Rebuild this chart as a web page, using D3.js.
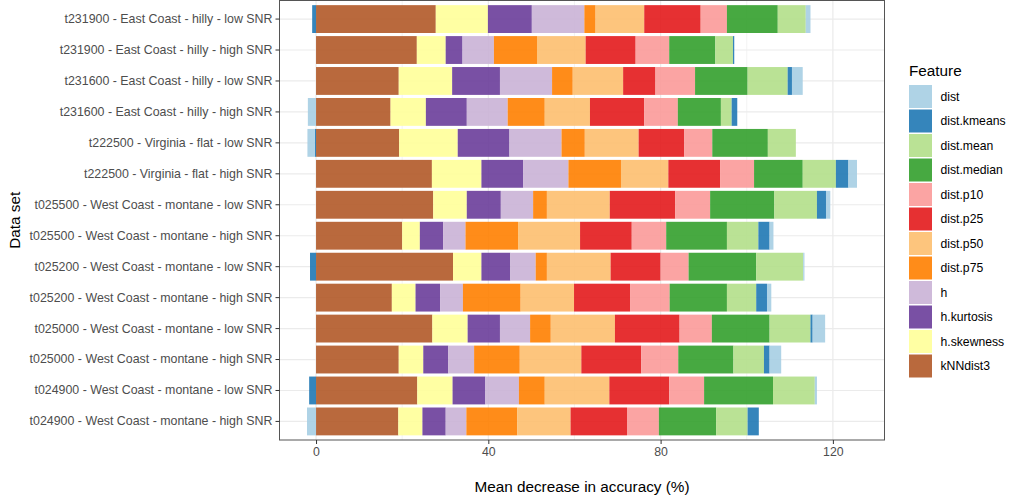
<!DOCTYPE html>
<html>
<head>
<meta charset="utf-8">
<script src="https://cdn.jsdelivr.net/npm/d3@7"></script>
<style>
  html, body { margin: 0; padding: 0; background: #fff; }
  svg { display: block; font-family: "Liberation Sans", Arial, sans-serif; }
</style>
</head>
<body>
<svg id="chart" width="1009" height="499"></svg>
<script>
// Data sets, listed top to bottom
const datasets = [
  "t231900 - East Coast - hilly - low SNR",
  "t231900 - East Coast - hilly - high SNR",
  "t231600 - East Coast - hilly - low SNR",
  "t231600 - East Coast - hilly - high SNR",
  "t222500 - Virginia - flat - low SNR",
  "t222500 - Virginia - flat - high SNR",
  "t025500 - West Coast - montane - low SNR",
  "t025500 - West Coast - montane - high SNR",
  "t025200 - West Coast - montane - low SNR",
  "t025200 - West Coast - montane - high SNR",
  "t025000 - West Coast - montane - low SNR",
  "t025000 - West Coast - montane - high SNR",
  "t024900 - West Coast - montane - low SNR",
  "t024900 - West Coast - montane - high SNR"
];

// Mean decrease in accuracy (%) per feature, same order as datasets
const kNNdist3    = [27.8, 23.4, 19.2, 17.3, 19.3, 26.9, 27.2, 20.0, 31.8, 17.6, 27.0, 19.2, 23.5, 19.1];
const hSkewness   = [12.1,  6.7, 12.4,  8.2, 13.6, 11.5,  7.8,  4.1,  6.6,  5.5,  8.2,  5.7,  8.2,  5.6];
const hKurtosis   = [10.2,  3.9, 11.1,  9.5, 12.0,  9.7,  7.9,  5.4,  6.7,  5.7,  7.5,  5.8,  7.6,  5.4];
const hFeat       = [12.2,  7.3, 12.1,  9.5, 12.1, 10.5,  7.5,  5.2,  5.9,  5.3,  7.0,  6.0,  7.8,  4.8];
const distP75     = [ 2.6, 10.0,  4.8,  8.6,  5.4, 12.2,  3.2, 12.2,  2.6, 13.4,  4.8, 10.6,  6.0, 11.8];
const distP50     = [11.3, 11.3, 11.7, 10.5, 12.5, 11.0, 14.6, 14.4, 14.8, 12.4, 14.9, 14.3, 15.0, 12.4];
const distP25     = [13.1, 11.6,  7.5, 12.6, 10.6, 12.0, 15.2, 12.0, 11.6, 13.0, 15.0, 13.9, 13.9, 13.1];
const distP10     = [ 6.1,  7.8,  9.2,  7.8,  6.5,  7.9,  8.1,  8.0,  6.5,  9.2,  7.5,  8.6,  8.1,  7.4];
const distMedian  = [11.8, 10.7, 12.2, 10.0, 12.9, 11.3, 14.9, 14.1, 15.7, 13.3, 13.4, 12.8, 16.0, 13.3];
const distMean    = [ 6.5,  4.1,  9.3,  2.5,  6.5,  7.7,  9.9,  7.3, 10.9,  6.8,  9.5,  7.1,  9.7,  7.3];
const distKmeans  = [-0.9,  0.3,  1.0,  1.3, -0.3,  2.9,  2.1,  2.6, -1.4,  2.5,  0.5,  1.3, -1.6,  2.6];
const distFeat    = [ 1.1,  0.0,  2.5, -1.9, -1.7,  2.0,  1.0,  0.9,  0.3,  1.0,  2.9,  2.7,  0.5, -2.1];

// Legend order of the features
const features = ["dist", "dist.kmeans", "dist.mean", "dist.median", "dist.p10", "dist.p25",
                  "dist.p50", "dist.p75", "h", "h.kurtosis", "h.skewness", "kNNdist3"];
const featureColors = ["#A6CEE3", "#1F78B4", "#B2DF8A", "#33A02C", "#FB9A99", "#E31A1C",
                       "#FDBF6F", "#FF7F00", "#CAB2D6", "#6A3D9A", "#FFFF99", "#B15928"];
const xTicks = [0, 40, 80, 120];
const xMinorTicks = [20, 60, 100];

const valuesByFeature = {
  "dist": distFeat, "dist.kmeans": distKmeans, "dist.mean": distMean, "dist.median": distMedian,
  "dist.p10": distP10, "dist.p25": distP25, "dist.p50": distP50, "dist.p75": distP75,
  "h": hFeat, "h.kurtosis": hKurtosis, "h.skewness": hSkewness, "kNNdist3": kNNdist3
};

const rows = datasets.map((name, i) => {
  const r = { name };
  features.forEach(f => { r[f] = valuesByFeature[f][i]; });
  return r;
});

// stacking from zero outward: last legend entry sits next to the axis
const stackKeys = features.slice().reverse();
const series = d3.stack()
  .keys(stackKeys)
  .offset(d3.stackOffsetDiverging)(rows);

const svg = d3.select("#chart");
const panel = { left: 279.5, right: 884.5, top: 0.5, bottom: 440 };

// x domain with 5% padding around the data extent
const lo = d3.min(series, s => d3.min(s, d => d[0]));
const hi = d3.max(series, s => d3.max(s, d => d[1]));
const pad = (hi - lo) * 0.05;
const x = d3.scaleLinear().domain([lo - pad, hi + pad]).range([panel.left, panel.right]);

// bars take 90% of each step, with 0.6 step of space at both ends
const y = d3.scaleBand()
  .domain(datasets)
  .range([panel.top, panel.bottom])
  .paddingInner(0.1)
  .paddingOuter(0.15);
const yCenter = d => y(d) + y.bandwidth() / 2;

const color = d3.scaleOrdinal().domain(features).range(featureColors);

// grid
const grid = svg.append("g");
grid.selectAll("line.minor").data(xMinorTicks).join("line")
  .attr("x1", d => x(d)).attr("x2", d => x(d))
  .attr("y1", panel.top).attr("y2", panel.bottom)
  .attr("stroke", "#EBEBEB").attr("stroke-width", 0.6);
grid.selectAll("line.major").data(xTicks).join("line")
  .attr("x1", d => x(d)).attr("x2", d => x(d))
  .attr("y1", panel.top).attr("y2", panel.bottom)
  .attr("stroke", "#EBEBEB").attr("stroke-width", 1.2);
grid.selectAll("line.hy").data(datasets).join("line")
  .attr("x1", panel.left).attr("x2", panel.right)
  .attr("y1", d => yCenter(d)).attr("y2", d => yCenter(d))
  .attr("stroke", "#EBEBEB").attr("stroke-width", 1.2);

// bars
svg.append("g").selectAll("g").data(series).join("g")
  .attr("fill", s => color(s.key))
  .attr("fill-opacity", 0.9)
  .selectAll("rect").data(s => s).join("rect")
  .attr("x", d => x(Math.min(d[0], d[1])))
  .attr("width", d => Math.abs(x(d[1]) - x(d[0])))
  .attr("y", d => y(d.data.name))
  .attr("height", y.bandwidth());

// panel border
svg.append("rect")
  .attr("x", panel.left).attr("y", panel.top)
  .attr("width", panel.right - panel.left).attr("height", panel.bottom - panel.top)
  .attr("fill", "none").attr("stroke", "#555555").attr("stroke-width", 1);

// axes
const xAxis = svg.append("g")
  .attr("transform", `translate(0,${panel.bottom})`)
  .call(d3.axisBottom(x).tickValues(xTicks).tickSize(4).tickPadding(3).tickFormat(d3.format("d")));
xAxis.select(".domain").remove();
xAxis.selectAll("line").attr("stroke", "#333333");
xAxis.selectAll("text").attr("fill", "#4D4D4D").attr("font-size", "12.3px")
  .attr("font-family", "Liberation Sans, Arial, sans-serif");

const yAxis = svg.append("g")
  .attr("transform", `translate(${panel.left},0)`)
  .call(d3.axisLeft(y).tickSize(4).tickPadding(3));
yAxis.select(".domain").remove();
yAxis.selectAll("line").attr("stroke", "#333333");
yAxis.selectAll("text").attr("fill", "#4D4D4D").attr("font-size", "12.4px")
  .attr("font-family", "Liberation Sans, Arial, sans-serif");

// axis titles
svg.append("text")
  .attr("x", (panel.left + panel.right) / 2).attr("y", 492)
  .attr("text-anchor", "middle").attr("font-size", "15.3px").attr("fill", "#000")
  .text("Mean decrease in accuracy (%)");
svg.append("text")
  .attr("transform", `translate(20,${(panel.top + panel.bottom) / 2}) rotate(-90)`)
  .attr("text-anchor", "middle").attr("font-size", "15.3px").attr("fill", "#000")
  .text("Data set");

// legend
const legend = svg.append("g").attr("transform", "translate(909,0)");
legend.append("text").attr("x", 0).attr("y", 75.5)
  .attr("font-size", "15.3px").attr("fill", "#000").text("Feature");
const keyPitch = 24.5, keySize = 23, keyTop = 85;
const items = legend.selectAll("g.item").data(features).join("g")
  .attr("transform", (d, i) => `translate(0,${keyTop + i * keyPitch})`);
items.append("rect")
  .attr("width", keySize).attr("height", keySize)
  .attr("fill", d => color(d)).attr("fill-opacity", 0.9);
items.append("text")
  .attr("x", 31.5).attr("y", keySize / 2).attr("dy", "0.35em")
  .attr("font-size", "12.2px").attr("fill", "#000")
  .text(d => d);
</script>
</body>
</html>
